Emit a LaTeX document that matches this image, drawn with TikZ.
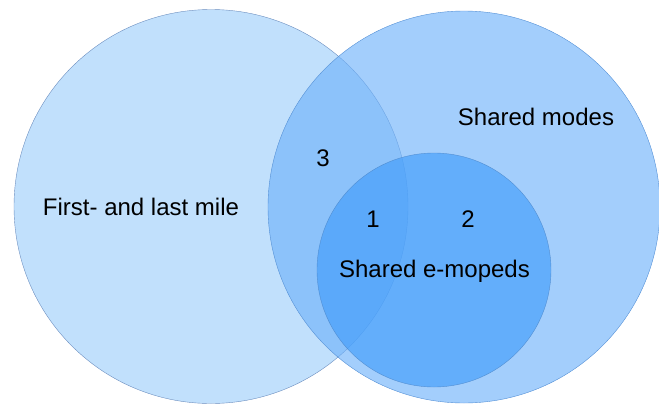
\documentclass[tikz,border=0pt]{standalone}
\usepackage{fontspec}
\setmainfont{Liberation Sans}

\definecolor{mileblue}{RGB}{193,224,252}
\definecolor{mileline}{RGB}{108,142,191}
\definecolor{sharedblue}{RGB}{111,178,250}
\definecolor{sharedline}{RGB}{84,144,214}
\definecolor{mopedblue}{RGB}{66,157,251}
\definecolor{mopedline}{RGB}{72,132,200}

\tikzset{
  label text/.style={font=\fontsize{24}{28}\selectfont, text height=17.2pt, text depth=0pt, inner sep=0pt, anchor=center}
}

\begin{document}
\begin{tikzpicture}[x=1pt,y=-1pt]
        \useasboundingbox (0,0) rectangle (659,407);

        % First- and last mile
        \draw[mileline,fill=mileblue] (211,206.5) circle (197);

        % Shared modes
        \draw[sharedline,fill=sharedblue,fill opacity=0.64] (464,207) circle (196);

        % Shared e-mopeds
        \draw[mopedline,fill=mopedblue,fill opacity=0.65,draw opacity=0.8] (434,270) circle (117);

        % Labels
        \node[label text] (lastmile) at (141,207) {First- and last mile};
        \node[label text] (modes) at (536,117) {Shared modes};
        \node[label text] (mopeds) at (434.5,269) {Shared e-mopeds};
        \node[label text] (three) at (323,158) {3};
        \node[label text] (one) at (373,219) {1};
        \node[label text] (two) at (468,219) {2};

      \end{tikzpicture}
\end{document}
